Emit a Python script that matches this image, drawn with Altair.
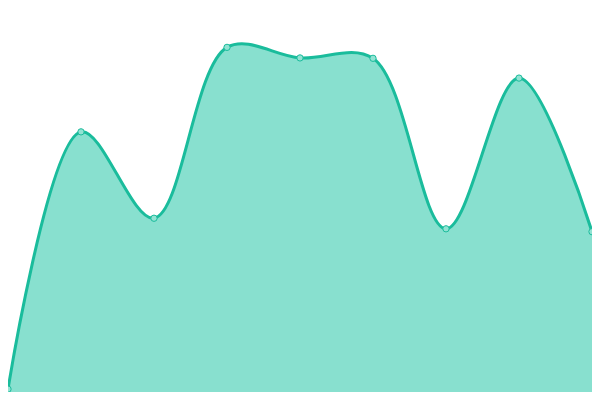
import altair as alt
import pandas as pd

idx = [0, 1, 2, 3, 4, 5, 6, 7, 8]
values = [0.75, 67.75, 45.25, 89.75, 87.0, 86.9, 42.5, 81.75, 41.75]

df = pd.DataFrame({"i": idx, "v": values})

x = alt.X("i:Q", scale=alt.Scale(domain=[0, 8], nice=False, zero=False), axis=None)
y = alt.Y("v:Q", scale=alt.Scale(domain=[0, 100], nice=False), axis=None)

base = alt.Chart(df)
area = base.mark_area(interpolate="catmull-rom", color="#88e0cf", opacity=1).encode(x=x, y=y)
line = base.mark_line(interpolate="catmull-rom", color="#1abc9c", strokeWidth=3).encode(x=x, y=y)
pts = base.mark_point(filled=True, fill="#92e3d3", stroke="#1abc9c", strokeWidth=1, size=40, opacity=1).encode(x=x, y=y)

chart = (area + line + pts).properties(
    width=584, height=384, padding=0, autosize=alt.AutoSizeParams(type="none")
).configure_view(stroke=None)

chart.save("out.html", embed_options={"renderer": "svg", "actions": False})
